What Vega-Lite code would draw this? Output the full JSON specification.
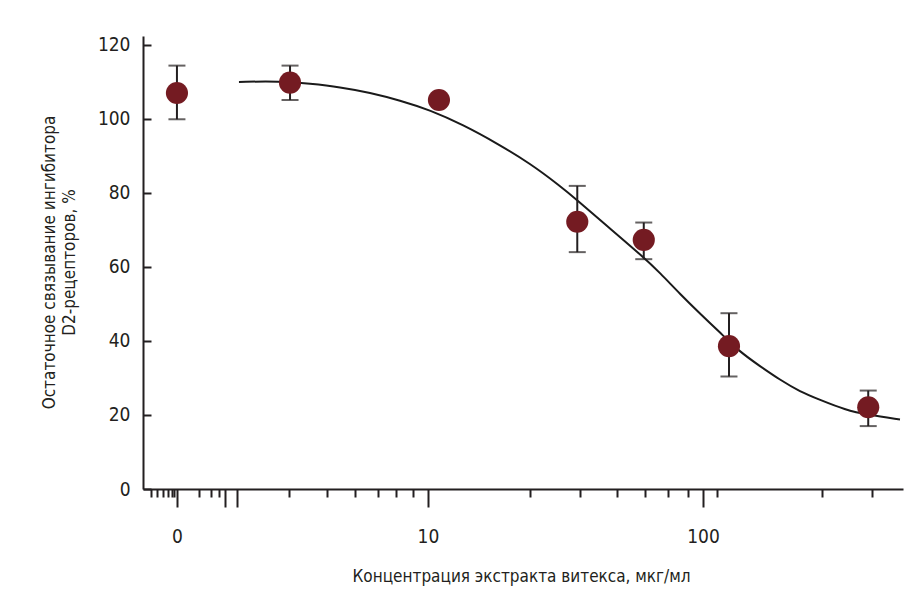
{
  "$schema": "https://vega.github.io/schema/vega-lite/v6.json",
  "width": 760,
  "height": 453,
  "autosize": "none",
  "padding": {"left": 143, "top": 36, "right": 19, "bottom": 103},
  "background": "white",
  "config": {
    "view": {"stroke": null},
    "font": "DejaVu Sans Condensed, sans-serif",
    "axis": {
      "domainColor": "#231f20",
      "domainWidth": 2,
      "tickColor": "#231f20",
      "tickWidth": 2,
      "labelColor": "#231f20",
      "labelFontSize": 19,
      "labelFont": "DejaVu Sans Condensed, sans-serif",
      "titleFont": "DejaVu Sans Condensed, sans-serif",
      "titleFontSize": 17,
      "titleFontWeight": "normal",
      "titleColor": "#231f20",
      "grid": false
    }
  },
  "datasets": {
    "points": [
      {"conc": 0, "value": 107.0, "lo": 99.9, "hi": 114.4},
      {"conc": 3.15, "value": 109.8, "lo": 105.1, "hi": 114.4},
      {"conc": 10.96, "value": 105.1, "lo": null, "hi": null},
      {"conc": 34.9, "value": 72.2, "lo": 64.0, "hi": 81.9},
      {"conc": 60.9, "value": 67.3, "lo": 62.1, "hi": 72.0},
      {"conc": 124.3, "value": 38.6, "lo": 30.4, "hi": 47.5},
      {"conc": 398.9, "value": 22.1, "lo": 17.0, "hi": 26.6}
    ],
    "curve": [
      {"conc": 2.054, "value": 110.0},
      {"conc": 2.896, "value": 110.2},
      {"conc": 3.723, "value": 109.5},
      {"conc": 4.786, "value": 108.6},
      {"conc": 6.153, "value": 107.1},
      {"conc": 7.91, "value": 105.0},
      {"conc": 10.17, "value": 102.4},
      {"conc": 13.41, "value": 98.4},
      {"conc": 17.82, "value": 93.4},
      {"conc": 23.49, "value": 88.0},
      {"conc": 30.2, "value": 81.9},
      {"conc": 34.82, "value": 78.1},
      {"conc": 42.22, "value": 72.7},
      {"conc": 60.51, "value": 62.8},
      {"conc": 69.75, "value": 58.4},
      {"conc": 82.48, "value": 52.7},
      {"conc": 97.52, "value": 47.4},
      {"conc": 115.3, "value": 42.3},
      {"conc": 136.3, "value": 37.0},
      {"conc": 161.2, "value": 33.2},
      {"conc": 190.5, "value": 29.5},
      {"conc": 225.3, "value": 26.3},
      {"conc": 266.4, "value": 24.1},
      {"conc": 328.3, "value": 21.4},
      {"conc": 398.1, "value": 20.0},
      {"conc": 520.4, "value": 18.8}
    ]
  },
  "encoding": {
    "x": {
      "field": "px",
      "type": "quantitative",
      "scale": {"type": "log", "domain": [0.9197, 533.7], "nice": false},
      "axis": {
        "title": "Концентрация экстракта витекса, мкг/мл",
        "titleX": 378,
        "titleY": 92,
        "titleBaseline": "alphabetic",
        "titleAnchor": null,
        "values": [0.983, 1.034, 1.087, 1.134, 1.172, 1.192, 1.222, 1.47, 1.625, 1.738, 1.827, 2.02, 3.123, 4.293, 5.428, 6.579, 7.647, 8.82, 10, 23.49, 35.7, 48.68, 61.53, 74.61, 88.2, 100, 112.4, 270.8, 411.8],
        "labelExpr": "datum.value == 1.222 ? '0' : datum.value == 10 ? '10' : datum.value == 100 ? '100' : ''",
        "labelOverlap": false,
        "labelFlush": false,
        "labelBound": false,
        "labelPadding": 20,
        "labelBaseline": "top",
        "tickSize": {
          "condition": {"test": "datum.value == 1.222 || datum.value == 1.827 || datum.value == 2.02 || datum.value == 10 || datum.value == 100", "value": 18},
          "value": 8
        }
      }
    },
    "y": {
      "field": "value",
      "type": "quantitative",
      "scale": {"domain": [0, 122.4], "nice": false},
      "axis": {
        "title": ["Остаточное связывание ингибитора", "D2-рецепторов, %"],
        "titleAngle": -90,
        "titleX": -94,
        "titleY": 226,
        "titleAlign": "center",
        "titleBaseline": "middle",
        "titleAnchor": null,
        "titleLineHeight": 20,
        "values": [0, 20, 40, 60, 80, 100, 120],
        "tickSize": -8,
        "labelPadding": 21
      }
    }
  },
  "layer": [
    {
      "data": {"name": "curve"},
      "transform": [{"calculate": "datum.conc", "as": "px"}],
      "mark": {"type": "line", "color": "#1a1a1a", "strokeWidth": 2, "interpolate": "basis"}
    },
    {
      "data": {"name": "points"},
      "transform": [
        {"filter": "datum.lo != null"},
        {"calculate": "datum.conc === 0 ? 1.222 : datum.conc", "as": "px"}
      ],
      "mark": {"type": "rule", "color": "#231f20", "strokeWidth": 2},
      "encoding": {"y": {"field": "lo", "type": "quantitative"}, "y2": {"field": "hi"}}
    },
    {
      "data": {"name": "points"},
      "transform": [
        {"filter": "datum.lo != null"},
        {"calculate": "datum.conc === 0 ? 1.222 : datum.conc", "as": "px"}
      ],
      "mark": {"type": "tick", "orient": "horizontal", "color": "#231f20", "size": 17, "thickness": 2},
      "encoding": {"y": {"field": "lo", "type": "quantitative"}}
    },
    {
      "data": {"name": "points"},
      "transform": [
        {"filter": "datum.lo != null"},
        {"calculate": "datum.conc === 0 ? 1.222 : datum.conc", "as": "px"}
      ],
      "mark": {"type": "tick", "orient": "horizontal", "color": "#231f20", "size": 17, "thickness": 2},
      "encoding": {"y": {"field": "hi", "type": "quantitative"}}
    },
    {
      "data": {"name": "points"},
      "transform": [{"calculate": "datum.conc === 0 ? 1.222 : datum.conc", "as": "px"}],
      "mark": {"type": "circle", "color": "#741b22", "opacity": 1, "size": 490}
    }
  ]
}
